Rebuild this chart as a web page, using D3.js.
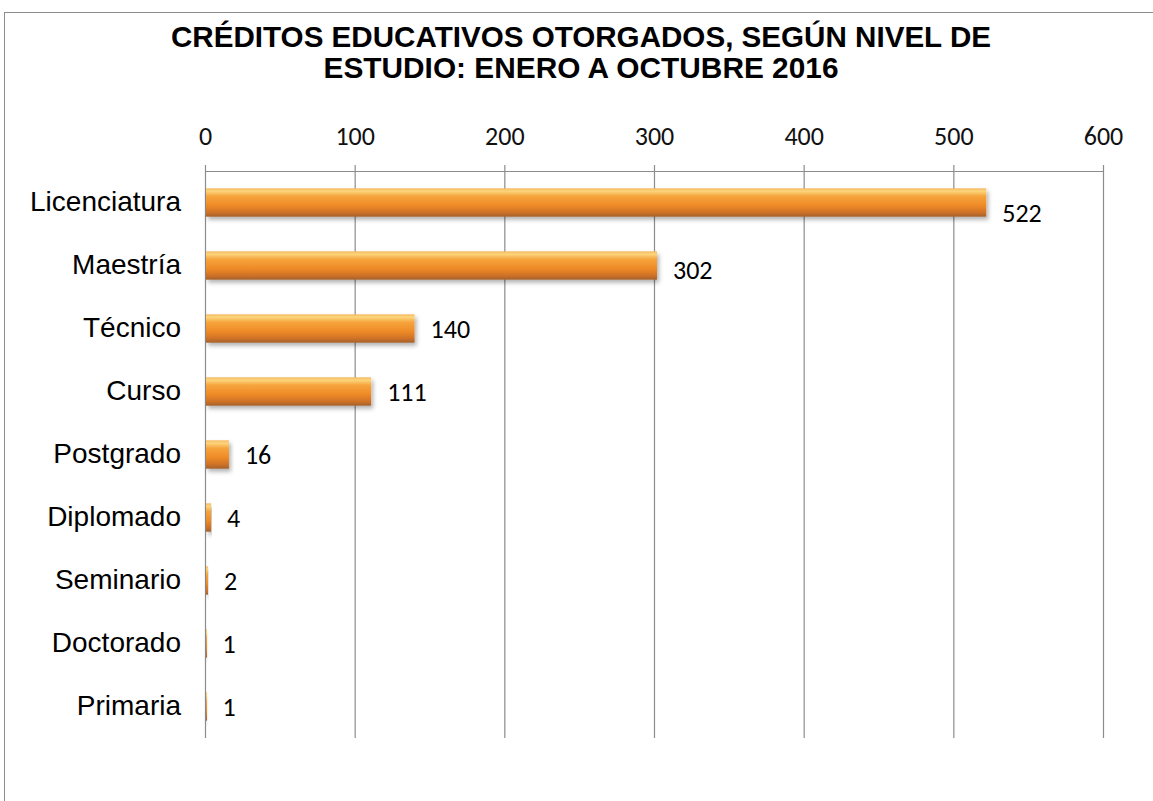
<!DOCTYPE html>
<html><head><meta charset="utf-8">
<script src="https://cdn.jsdelivr.net/npm/d3@7"></script>
<style>body{margin:0;background:#fff}</style>
</head><body>
<script>
const categories = ["Licenciatura","Maestría","Técnico","Curso","Postgrado","Diplomado","Seminario","Doctorado","Primaria"];
const values = [522,302,140,111,16,4,2,1,1];
const tickValues = [0,100,200,300,400,500,600];
const titleLines = ["CRÉDITOS  EDUCATIVOS OTORGADOS, SEGÚN NIVEL DE","ESTUDIO: ENERO A OCTUBRE 2016"];

const W=1153,H=801;
const svg=d3.select("body").append("svg").attr("width",W).attr("height",H);
const defs=svg.append("defs");
const g1=defs.append("linearGradient").attr("id","barg").attr("x1",0).attr("y1",0).attr("x2",0).attr("y2",1);
[[0,"#f5b860"],[0.1,"#fcd57c"],[0.28,"#f6a43c"],[0.6,"#ef8b28"],[0.85,"#cf7228"],[1,"#a3602a"]].forEach(s=>g1.append("stop").attr("offset",s[0]).attr("stop-color",s[1]));
const f=defs.append("filter").attr("id","sh").attr("x","-10%").attr("y","-30%").attr("width","130%").attr("height","180%");
f.append("feDropShadow").attr("dx",2).attr("dy",3).attr("stdDeviation",2).attr("flood-color","#000").attr("flood-opacity",0.3);

// outer frame
svg.append("rect").attr("x",4.5).attr("y",12.5).attr("width",W).attr("height",H).attr("fill","none").attr("stroke","#8c8c8c").attr("stroke-width",1);

// title
svg.append("g").selectAll("text").data(titleLines).join("text")
  .attr("x",581).attr("y",(d,i)=>47+i*31).attr("text-anchor","middle")
  .attr("font-family","'Liberation Sans Narrow','Arial Narrow','Liberation Sans',Arial,sans-serif")
  .attr("font-weight","bold").attr("font-size",30).attr("fill","#000")
  .attr("textLength",(d,i)=>i===0?820:515).attr("lengthAdjust","spacingAndGlyphs")
  .text(d=>d);

const x=d3.scaleLinear().domain([0,600]).range([205,1103]);
const y=d3.scaleBand().domain(categories).range([171,738]).paddingInner(0.55).paddingOuter(0.275);

// grid
svg.append("g").selectAll("line").data(tickValues).join("line")
  .attr("x1",d=>x(d)+0.5).attr("x2",d=>x(d)+0.5).attr("y1",165).attr("y2",738)
  .attr("stroke","#8c8c8c").attr("stroke-width",1.2);
svg.append("line").attr("x1",x(0)).attr("x2",x(600)+1).attr("y1",171.5).attr("y2",171.5).attr("stroke","#8c8c8c").attr("stroke-width",1.2);

// top axis labels
const ax=d3.axisTop(x).tickValues(tickValues).tickSize(0).tickPadding(0);
const axg=svg.append("g").attr("transform","translate(0,145)").call(ax);
axg.select(".domain").remove();
axg.selectAll("text").attr("font-family","Carlito,'Open Sans',Calibri,sans-serif").attr("font-size",26).attr("fill","#111");

// category labels
const ay=d3.axisLeft(y).tickSize(0).tickPadding(0);
const ayg=svg.append("g").attr("transform","translate(181,0)").call(ay);
ayg.select(".domain").remove();
ayg.selectAll("text").attr("font-family","'Liberation Sans',Arial,sans-serif").attr("font-size",28).attr("fill","#000");

// bars
svg.append("g").selectAll("rect").data(values).join("rect")
  .attr("x",x(0)+1).attr("y",(d,i)=>y(categories[i]))
  .attr("width",d=>Math.max(1,x(d)-x(0)-1)).attr("height",y.bandwidth())
  .attr("fill","url(#barg)").attr("filter","url(#sh)");

// value labels
svg.append("g").selectAll("text").data(values).join("text")
  .attr("x",d=>x(d)+16).attr("y",(d,i)=>y(categories[i])+y.bandwidth()/2+(i===0?11:i===1?5:1))
  .attr("dy","0.32em")
  .attr("font-family","Carlito,'Open Sans',Calibri,sans-serif").attr("font-size",26).attr("fill","#000")
  .text(d=>d);
</script>
</body></html>
